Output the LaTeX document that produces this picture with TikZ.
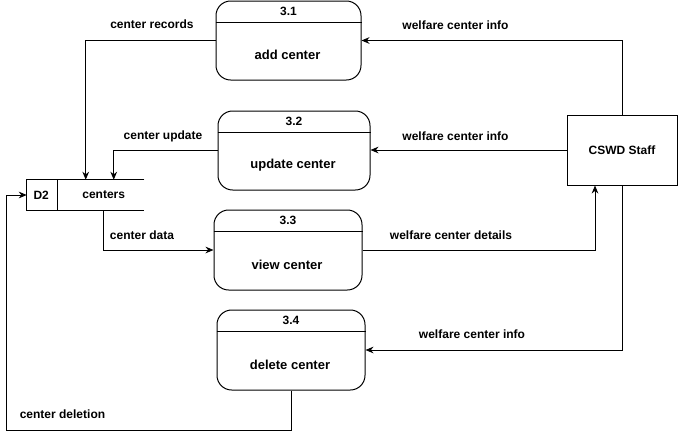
\documentclass[tikz,border=0pt]{standalone}
\usepackage{fontspec}
\setmainfont{Liberation Sans}
\usetikzlibrary{arrows.meta,calc}
\begin{document}
\begin{tikzpicture}[x=0.75pt,y=-0.75pt,
  proc/.style={draw, line width=0.75pt, rounded corners=11pt, inner sep=0pt},
  txt/.style={font=\bfseries\fontsize{9}{10}\selectfont, inner sep=0pt},
  bigtxt/.style={font=\bfseries\fontsize{9.75}{11}\selectfont, inner sep=0pt},
  flow/.style={draw, line width=0.75pt, -{Stealth[length=6pt,width=5pt]}},
  lin/.style={draw, line width=0.75pt}]
\useasboundingbox (0,0) rectangle (678,439);
% processes
\node[proc, minimum width=108.75pt, minimum height=59.25pt] (p1) at (288.5,40.5) {};
\node[proc, minimum width=114pt, minimum height=59.25pt] (p2) at (294,150.5) {};
\node[proc, minimum width=111pt, minimum height=60pt] (p3) at (288,250) {};
\node[proc, minimum width=111pt, minimum height=60pt] (p4) at (291,350) {};
\foreach \p/\n/\t in {p1/3.1/add center, p2/3.2/update center, p3/3.3/view center, p4/3.4/delete center}{
  \draw[lin] ($(\p.north west)+(0,22)$) -- ($(\p.north east)+(0,22)$);
  \node[txt] (\p n) at ($(\p.north)+(0,11)$) {\n};
  \node[bigtxt] (\p t) at ($(\p.center)+(-1,14.5)$) {\t};
}
% data store
\node[minimum width=87.75pt, minimum height=22.5pt, inner sep=0pt] (store) at (85.5,195) {};
\draw[lin] (store.north east) -- (store.north west) -- (store.south west) -- (store.south east);
\draw[lin] ($(store.north west)+(30.5,0)$) -- ($(store.south west)+(30.5,0)$);
\node[txt] (d2) at ($(store.west)+(14.5,0)$) {D2};
\node[txt] (cent) at ($(store.west)+(77,0)$) {centers};
% external entity
\node[draw, line width=0.75pt, minimum width=82.5pt, minimum height=52.5pt, inner sep=0pt,
  font=\bfseries\fontsize{9}{10}\selectfont] (staff) at (622,150) {CSWD Staff};
% flows
\draw[flow] (staff.north) |- (p1.east);
\draw[flow] (staff.west) -- (staff.west -| p2.east);
\draw[flow] (p3.east) -| ($(staff.south)+(-27,0)$);
\draw[flow] (staff.south) |- (p4.east);
\draw[flow] (p1.west) -| ($(store.north west)+(59,0)$);
\draw[flow] (p2.west) -| ($(store.north west)+(87,0)$);
\draw[flow] ($(store.south west)+(77,0)$) |- (p3.west);
\draw[flow] (p4.south) -- ++(0,40) -| ($(store.west)+(-20,0)$) -- (store.west);
% labels
\node[txt] (l1) at (152,24) {center records};
\node[txt] (l2) at (163,136) {center update};
\node[txt] (l3) at (142,235) {center data};
\node[txt] (l4) at (62.5,414) {center deletion};
\node[txt] (l5) at (455.5,25) {welfare center info};
\node[txt] (l6) at (455.5,136.5) {welfare center info};
\node[txt] (l7) at (451,235) {welfare center details};
\node[txt] (l8) at (472,334) {welfare center info};
\end{tikzpicture}
\end{document}
